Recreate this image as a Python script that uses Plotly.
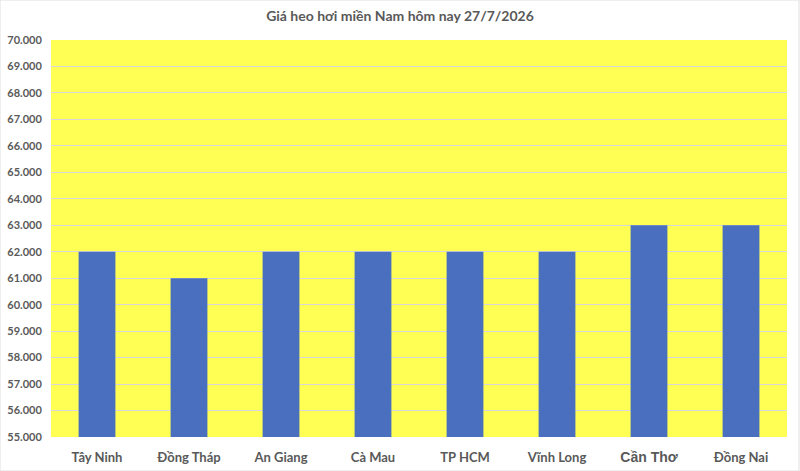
import plotly.graph_objects as go

categories = ["Tây Ninh", "Đồng Tháp", "An Giang", "Cà Mau", "TP HCM", "Vĩnh Long", "Cần Thơ", "Đồng Nai"]
prices = [62000, 61000, 62000, 62000, 62000, 62000, 63000, 63000]
tick_vals = list(range(55000, 70001, 1000))
tick_text = [f"<span style='font-size:14px;font-family:Liberation Sans, Arial, sans-serif'>{c}</span>" if c == "Cần Thơ" else c for c in categories]

fig = go.Figure()
fig.add_trace(go.Bar(x=categories, y=prices, marker_color="#4A6FBE", marker_line_width=0))

font_family = "Lato, Open Sans, sans-serif"
fig.update_layout(
    width=800, height=471,
    margin=dict(l=51, r=13, t=40, b=34),
    paper_bgcolor="white",
    plot_bgcolor="#FFFF54",
    separators=",.",
    bargap=0.6,
    showlegend=False,
    title=dict(text="<b>Giá heo hơi miền Nam hôm nay 27/7/2026</b>", x=0.5, xanchor="center",
               y=0.965, yanchor="middle", font=dict(family=font_family, size=14, color="#595959")),
    font=dict(family=font_family, color="#595959"),
)
fig.update_yaxes(range=[55000, 70000], tickvals=tick_vals, tickformat=",.0f",
                 showgrid=True, gridcolor="#D9D9D9", gridwidth=1, automargin=False,
                 ticks="outside", ticklen=6, tickcolor="rgba(0,0,0,0)",
                 tickfont=dict(size=11, color="#595959", family=font_family, weight="bold"),
                 zeroline=False, showline=False)
fig.update_xaxes(ticks="outside", ticklen=8, tickcolor="rgba(0,0,0,0)", automargin=False,
                 tickvals=categories, ticktext=tick_text,
                 tickfont=dict(size=13, color="#595959", family=font_family, weight="bold"),
                 showline=False)
fig.add_shape(type="rect", xref="paper", yref="paper", x0=-51/736, x1=1+12/736, y0=-34/397, y1=1+40/397,
              line=dict(color="#E0E0E0", width=1))
fig.write_html("out.html")
